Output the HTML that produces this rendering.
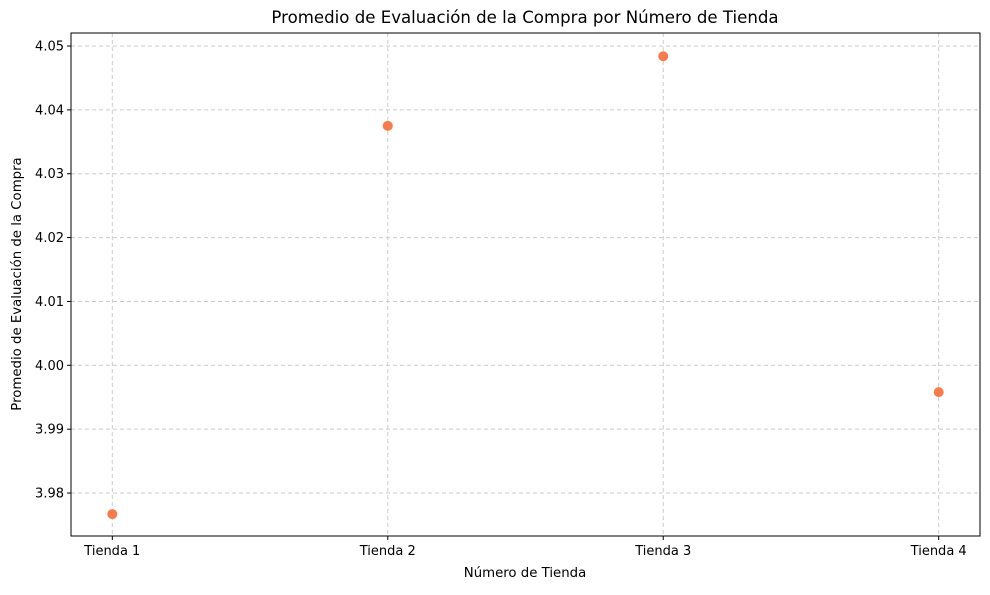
<!DOCTYPE html>
<html><head><meta charset="utf-8"><style>
body{margin:0;background:#fff;}
svg text{font-family:"DejaVu Sans","Liberation Sans",sans-serif;fill:#000;}
</style></head><body>
<svg id="chart" width="990" height="590">
<text x="525" y="23" font-size="16.6" text-anchor="middle">Promedio de Evaluación de la Compra por Número de Tienda</text>
<g id="grid"></g><g id="ticks"></g><g id="pts"></g>
<rect x="71" y="33" width="909" height="503" fill="none" stroke="#000" stroke-width="1"/>
<text x="525" y="577" font-size="13.3" text-anchor="middle">Número de Tienda</text>
<text transform="translate(21,284) rotate(-90)" font-size="13.3" text-anchor="middle">Promedio de Evaluación de la Compra</text>
</svg>
<script>
const categories=["Tienda 1","Tienda 2","Tienda 3","Tienda 4"];
const values=[3.9767,4.0375,4.0484,3.9958];
const yTicks=[3.98,3.99,4.00,4.01,4.02,4.03,4.04,4.05];
const L=71,R=980,T=33,B=536,ymin=3.97327,ymax=4.05204,xmin=-0.15,xmax=3.15;
const xs=i=>L+(i-xmin)/(xmax-xmin)*(R-L);
const ys=v=>B-(v-ymin)/(ymax-ymin)*(B-T);
const NS="http://www.w3.org/2000/svg";
function mk(t,a,p){const e=document.createElementNS(NS,t);for(const k in a)e.setAttribute(k,a[k]);p.appendChild(e);return e;}
const g=document.getElementById('grid'),tk=document.getElementById('ticks'),pg=document.getElementById('pts');
yTicks.forEach(v=>{const y=ys(v);
const l=mk('line',{x1:L,x2:R,y1:y,y2:y,stroke:'#ccc','stroke-dasharray':'4,3'},g);


mk('line',{x1:L-4,x2:L,y1:y,y2:y,stroke:'#000'},tk);
const t=mk('text',{x:L-7,y:y+4.5,'font-size':13,'text-anchor':'end'},tk);t.textContent=v.toFixed(2);

});
categories.forEach((c,i)=>{const x=xs(i);
const l=mk('line',{x1:x,x2:x,y1:T,y2:B,stroke:'#ccc','stroke-dasharray':'4,3'},g);


mk('line',{x1:x,x2:x,y1:B,y2:B+4,stroke:'#000'},tk);
const t=mk('text',{x:x,y:B+19,'font-size':13,'text-anchor':'middle'},tk);t.textContent=c;


const p=mk('circle',{cx:x,cy:ys(values[i]),r:5,fill:'#f77b4b'},pg);

});
</script>
</body></html>
